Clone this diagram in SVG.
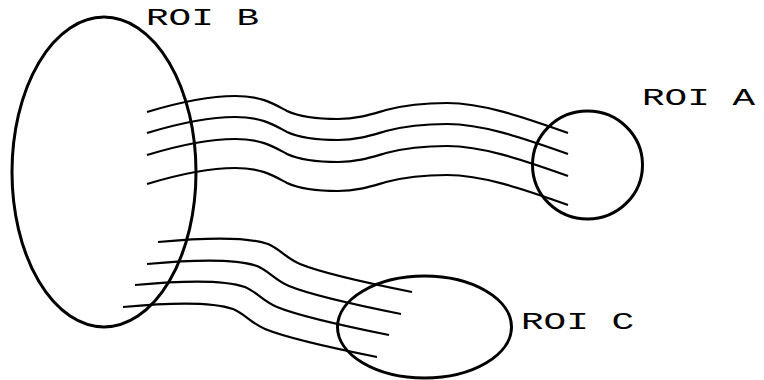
<svg xmlns="http://www.w3.org/2000/svg" xmlns:xlink="http://www.w3.org/1999/xlink" width="764" height="380" viewBox="0 0 764 380">
  <style>
    .region { fill: none; stroke: #000; stroke-width: 3; }
    .fiber { fill: none; stroke: #000; stroke-width: 2.2; stroke-linecap: butt; }
    .label { font-family: "Liberation Mono", "Courier New", monospace; font-size: 23px; fill: #000; }
  </style>
  <defs>
    <!-- one fiber of the B to A bundle -->
    <path id="fiber-ba" d="M147,112 C180,102 210,96 235,96 C262,96 274,104 287,111 C300,117 320,119 338,119 C358,119 372,114 386,110 C405,105 425,103 447,103 C482,103 520,116 568,133"/>
    <!-- one fiber of the B to C bundle -->
    <path id="fiber-bc" d="M158,242 C200,238 245,236 268,244 C280,249 286,258 300,264 C322,273 362,282 412,292"/>
  </defs>

  <g id="connectors">
    <use class="fiber" xlink:href="#fiber-ba"/>
    <use class="fiber" xlink:href="#fiber-ba" y="21"/>
    <use class="fiber" xlink:href="#fiber-ba" y="43"/>
    <use class="fiber" xlink:href="#fiber-ba" y="72"/>
    <use class="fiber" xlink:href="#fiber-bc"/>
    <use class="fiber" xlink:href="#fiber-bc" x="-11" y="22"/>
    <use class="fiber" xlink:href="#fiber-bc" x="-23" y="43"/>
    <use class="fiber" xlink:href="#fiber-bc" x="-35" y="65"/>
  </g>

  <g id="roi-b">
    <ellipse class="region" cx="104" cy="172" rx="92" ry="155"/>
    <text class="label" x="146" y="25" textLength="113" lengthAdjust="spacingAndGlyphs">ROI B</text>
  </g>

  <g id="roi-a">
    <ellipse class="region" cx="587.5" cy="165" rx="55" ry="54"/>
    <text class="label" x="642" y="105" textLength="113" lengthAdjust="spacingAndGlyphs">ROI A</text>
  </g>

  <g id="roi-c">
    <ellipse class="region" cx="424.5" cy="327" rx="87" ry="51"/>
    <text class="label" x="521" y="329" textLength="113" lengthAdjust="spacingAndGlyphs">ROI C</text>
  </g>
</svg>
